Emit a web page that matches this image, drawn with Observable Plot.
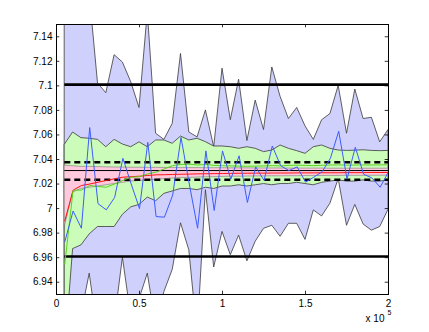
<!DOCTYPE html>
<html>
<head>
<meta charset="utf-8">
<script src="https://cdn.jsdelivr.net/npm/d3@7"></script>
<script src="https://cdn.jsdelivr.net/npm/@observablehq/plot@0.6"></script>
<style>
  html, body { margin: 0; padding: 0; background: #fff; }
</style>
</head>
<body>
<script>
// ---- data ----
const xs = [5000, 10000, 15000, 20000, 25000, 30000, 35000, 40000, 45000, 50000,
  55000, 60000, 65000, 70000, 75000, 80000, 85000, 90000, 95000, 100000,
  105000, 110000, 115000, 120000, 125000, 130000, 135000, 140000, 145000, 150000,
  155000, 160000, 165000, 170000, 175000, 180000, 185000, 190000, 195000, 200000];

const outerUpper = [7.26, 7.23, 7.20, 7.175, 7.102, 7.094, 7.125, 7.119, 7.103, 7.082,
  7.160, 7.061, 7.056, 7.069, 7.126, 7.062, 7.058, 7.080, 7.050, 7.114,
  7.072, 7.105, 7.055, 7.088, 7.064, 7.115, 7.091, 7.073, 7.082, 7.067,
  7.056, 7.072, 7.077, 7.100, 7.061, 7.097, 7.073, 7.074, 7.054, 7.064];
const outerLower = [6.86, 6.88, 6.913, 6.947, 6.899, 6.90, 6.907, 6.960, 6.912, 6.926,
  6.947, 6.905, 6.932, 6.950, 6.988, 6.966, 6.897, 7.015, 6.952, 6.981,
  6.962, 6.978, 6.957, 6.973, 6.9835, 6.986, 6.977, 6.9876, 6.9876, 6.9745,
  6.9985, 6.9936, 7.004, 7.024, 6.986, 7.003, 6.987, 6.982, 6.985, 6.999];

const midUpper = [7.052, 7.062, 7.0574, 7.0569, 7.056, 7.050, 7.056, 7.0522, 7.050, 7.054,
  7.050, 7.0555, 7.0555, 7.0528, 7.0587, 7.0555, 7.0569, 7.0541, 7.0506, 7.0506,
  7.050, 7.0487, 7.050, 7.0487, 7.046, 7.0473, 7.0514, 7.0487, 7.0468, 7.0446,
  7.050, 7.0514, 7.0487, 7.0473, 7.047, 7.0472, 7.0475, 7.047, 7.0468, 7.047];
const midLower = [6.88, 6.967, 6.970, 6.979, 6.985, 6.985, 6.985, 6.995, 7.001, 7.003,
  7.009, 7.006, 7.012, 7.014, 7.016, 7.016, 7.015, 7.017, 7.016, 7.018,
  7.018, 7.019, 7.018, 7.019, 7.020, 7.019, 7.020, 7.020, 7.021, 7.020,
  7.019, 7.021, 7.022, 7.023, 7.022, 7.022, 7.023, 7.022, 7.022, 7.023];

const innerUpper = [7.035, 7.0345, 7.034, 7.034, 7.0338, 7.0336, 7.0335, 7.0334, 7.0333, 7.0333,
  7.0332, 7.0332, 7.0331, 7.0331, 7.033, 7.033, 7.033, 7.0329, 7.0329, 7.0329,
  7.0328, 7.0328, 7.0328, 7.0327, 7.0327, 7.0327, 7.0327, 7.0326, 7.0326, 7.0326,
  7.0326, 7.0326, 7.0325, 7.0325, 7.0325, 7.0325, 7.0325, 7.0325, 7.0325, 7.0325];
const innerLower = [6.985, 7.013, 7.016, 7.017, 7.018, 7.019, 7.020, 7.021, 7.022, 7.0225,
  7.023, 7.0235, 7.024, 7.0245, 7.025, 7.025, 7.0253, 7.0255, 7.0256, 7.0258,
  7.026, 7.026, 7.0261, 7.0262, 7.0262, 7.0263, 7.0263, 7.0264, 7.0264, 7.0265,
  7.0265, 7.0266, 7.0266, 7.0266, 7.0267, 7.0267, 7.0267, 7.0268, 7.0268, 7.0268];

const redSeries = [6.990, 7.015, 7.0188, 7.020, 7.0215, 7.0229, 7.0243, 7.0256, 7.026, 7.0264,
  7.027, 7.0275, 7.0276, 7.0278, 7.028, 7.0281, 7.0283, 7.0284, 7.0285, 7.0286,
  7.0287, 7.0288, 7.0288, 7.0289, 7.0289, 7.029, 7.029, 7.029, 7.0291, 7.0291,
  7.0291, 7.0292, 7.0292, 7.0292, 7.0293, 7.0293, 7.0293, 7.0294, 7.0294, 7.0294];
const greenSeries = [6.955, 7.015, 7.015, 7.0188, 7.018, 7.0174, 7.020, 7.023, 7.0256, 7.026,
  7.0283, 7.0297, 7.0324, 7.035, 7.036, 7.0362, 7.0355, 7.036, 7.0352, 7.035,
  7.0348, 7.0346, 7.0345, 7.0346, 7.0348, 7.035, 7.0348, 7.0352, 7.0354, 7.0352,
  7.035, 7.0353, 7.0355, 7.0356, 7.0354, 7.0355, 7.0356, 7.0355, 7.0356, 7.0357];
const blueSeries = [6.973, 6.998, 6.984, 7.066, 7.004, 6.999, 7.009, 7.041, 7.020, 7.000,
  7.054, 6.9935, 6.993, 7.011, 7.058, 7.020, 6.984, 7.047, 6.9985, 7.047,
  7.024, 7.043, 7.005, 7.034, 7.023, 7.051, 7.035, 7.031, 7.034, 7.0215,
  7.0256, 7.030, 7.041, 7.063, 7.024, 7.050, 7.028, 7.025, 7.0174, 7.030];

const solidLevels = [7.101, 6.961];
const dashedLevels = [7.0378, 7.0235];
const trueLevel = [7.031];

const yTicks = [6.94, 6.96, 6.98, 7, 7.02, 7.04, 7.06, 7.08, 7.1, 7.12, 7.14];
const yTickLabels = ["6.94", "6.96", "6.98", "7", "7.02", "7.04", "7.06", "7.08", "7.1", "7.12", "7.14"];
const xTicks = [0, 50000, 100000, 150000, 200000];
const xTickLabels = ["0", "0.5", "1", "1.5", "2"];
const xExponentText = "x 10";
const xExponent = "5";

// ---- table ----
const rows = xs.map((x, i) => ({
  x,
  oU: outerUpper[i], oL: outerLower[i],
  mU: midUpper[i], mL: midLower[i],
  iU: innerUpper[i], iL: innerLower[i],
  r: redSeries[i], g: greenSeries[i], b: blueSeries[i]
}));
const xStart = xs[0], xEnd = xs[xs.length - 1];

const W = 429, H = 332;
const mL = 56, mR = 41, mT = 24, mB = 38;
const innerW = W - mL - mR, innerH = H - mT - mB;
const tickLen = 3.3;
const edge = "#3a3a3a";

const chart = Plot.plot({
  width: W,
  height: H,
  marginLeft: mL,
  marginRight: mR,
  marginTop: mT,
  marginBottom: mB,
  style: {fontFamily: "'Liberation Sans', Arial, Helvetica, sans-serif", fontSize: "10px", background: "#fff", color: "#000"},
  x: {domain: [0, 200000]},
  y: {domain: [6.93, 7.15]},
  marks: [
    Plot.areaY(rows, {x: "x", y1: "oL", y2: "oU", fill: "#d0d0fc", stroke: edge, strokeWidth: 0.8, clip: true}),
    Plot.areaY(rows, {x: "x", y1: "mL", y2: "mU", fill: "#ccfcba", stroke: edge, strokeWidth: 0.8, clip: true}),
    Plot.areaY(rows, {x: "x", y1: "iL", y2: "iU", fill: "#ffc8dc", stroke: "#777", strokeWidth: 0.6, clip: true}),
    Plot.ruleY(trueLevel, {x1: xStart, x2: xEnd, stroke: "#000", strokeWidth: 1}),
    Plot.ruleY(solidLevels, {x1: xStart, x2: xEnd, stroke: "#000", strokeWidth: 2.6}),
    Plot.ruleY(dashedLevels, {x1: xStart, x2: xEnd, stroke: "#000", strokeWidth: 2.4, strokeDasharray: "6,4"}),
    Plot.lineY(rows, {x: "x", y: "r", stroke: "#ff1010", strokeWidth: 1, clip: true}),
    Plot.lineY(rows, {x: "x", y: "g", stroke: "#5cd020", strokeWidth: 1, clip: true}),
    Plot.lineY(rows, {x: "x", y: "b", stroke: "#3c5cff", strokeWidth: 1, clip: true}),
    Plot.frame({stroke: "#000", strokeWidth: 1}),
    Plot.tickY(yTicks, {insetRight: innerW - tickLen, stroke: "#000", strokeWidth: 0.8}),
    Plot.tickY(yTicks, {insetLeft: innerW - tickLen, stroke: "#000", strokeWidth: 0.8}),
    Plot.tickX(xTicks, {insetTop: innerH - tickLen, stroke: "#000", strokeWidth: 0.8}),
    Plot.tickX(xTicks, {insetBottom: innerH - tickLen, stroke: "#000", strokeWidth: 0.8}),
    Plot.axisY(yTicks, {tickSize: 0, tickPadding: 4, label: null, tickFormat: d => yTickLabels[yTicks.indexOf(d)]}),
    Plot.axisX(xTicks, {tickSize: 0, tickPadding: 5, label: null, tickFormat: d => xTickLabels[xTicks.indexOf(d)]}),
    Plot.text([xExponentText], {frameAnchor: "bottom-right", text: d => d, textAnchor: "end", dx: -4, dy: 27, fontSize: 10}),
    Plot.text([xExponent], {frameAnchor: "bottom-right", text: d => d, textAnchor: "start", dx: -1, dy: 20, fontSize: 7})
  ]
});
document.body.appendChild(chart);
</script>
</body>
</html>
